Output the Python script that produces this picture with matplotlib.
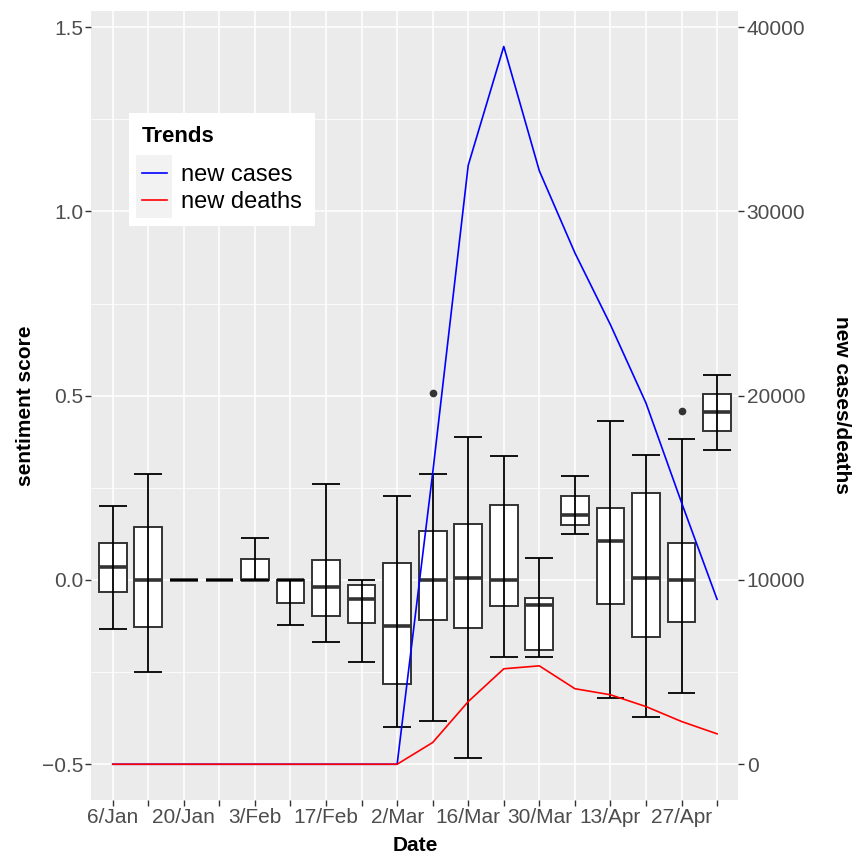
import matplotlib
matplotlib.use("Agg")
import matplotlib.pyplot as plt
from matplotlib.legend_handler import HandlerLine2D
from matplotlib.patches import Rectangle

plt.rcParams['font.family'] = ['Liberation Sans', 'DejaVu Sans']

# weekly categories (every other one labelled)
weeks = ['6/Jan', '13/Jan', '20/Jan', '27/Jan', '3/Feb', '10/Feb', '17/Feb', '24/Feb', '2/Mar',
         '9/Mar', '16/Mar', '23/Mar', '30/Mar', '6/Apr', '13/Apr', '20/Apr', '27/Apr', '4/May']
week_labels = [w if i % 2 == 0 else '' for i, w in enumerate(weeks)]

# sentiment score box summaries per week
whis_hi = [0.202, 0.287, 0, 0, 0.114, 0, 0.260, 0, 0.228, 0.287, 0.387, 0.337, 0.060, 0.282, 0.430, 0.338, 0.383, 0.556]
q3 = [0.101, 0.145, 0, 0, 0.056, 0, 0.054, -0.015, 0.045, 0.134, 0.153, 0.204, -0.048, 0.228, 0.194, 0.237, 0.100, 0.505]
med = [0.034, 0, 0, 0, 0, 0, -0.020, -0.051, -0.125, 0, 0.005, 0, -0.068, 0.176, 0.106, 0.005, 0, 0.455]
q1 = [-0.033, -0.127, 0, 0, 0, -0.062, -0.098, -0.118, -0.282, -0.109, -0.131, -0.072, -0.190, 0.150, -0.066, -0.155, -0.114, 0.404]
whis_lo = [-0.134, -0.251, 0, 0, 0, -0.123, -0.168, -0.222, -0.398, -0.382, -0.482, -0.209, -0.208, 0.125, -0.321, -0.371, -0.306, 0.353]
outliers = {9: [0.506], 16: [0.459]}

# weekly trends (right axis)
new_cases = [0, 0, 0, 0, 0, 0, 0, 0, 0, 15800, 32500, 38950, 32200, 27750, 23850, 19600, 14200, 8950]
new_deaths = [0, 0, 0, 0, 0, 0, 0, 0, 0, 1180, 3400, 5180, 5340, 4100, 3770, 3130, 2320, 1650]

scale = 20000.0   # cases = (score + 0.5) * scale
offset = 0.5

pos = list(range(1, len(weeks) + 1))
box_w = 0.78

fig = plt.figure(figsize=(8.58, 8.56), dpi=100, facecolor='white')
ax = fig.add_axes([91.4 / 858, 1 - 800 / 856, 647 / 858, 789.5 / 856])
ax.set_facecolor('#EBEBEB')
for s in ax.spines.values():
    s.set_visible(False)

stats = []
for i in range(len(weeks)):
    stats.append(dict(med=med[i], q1=q1[i], q3=q3[i], whislo=med[i], whishi=med[i],
                      fliers=outliers.get(i, [])))
ax.bxp(stats, positions=pos, widths=box_w, patch_artist=True, showcaps=False,
       boxprops=dict(facecolor='white', edgecolor='#333333', linewidth=1.4),
       medianprops=dict(color='#333333', linewidth=2.6, solid_capstyle='butt'),
       whiskerprops=dict(linewidth=0),
       flierprops=dict(marker='o', markerfacecolor='#333333', markeredgecolor='#333333', markersize=4.5),
       zorder=2)

# error bars drawn over the boxes
ax.vlines(pos, whis_lo, whis_hi, color='black', linewidth=1.3, zorder=3)
ax.hlines(whis_lo, [p - box_w / 2 for p in pos], [p + box_w / 2 for p in pos], color='black', linewidth=1.3, zorder=3)
ax.hlines(whis_hi, [p - box_w / 2 for p in pos], [p + box_w / 2 for p in pos], color='black', linewidth=1.3, zorder=3)

ylo, yhi = -0.597, 1.545
ax.set_ylim(ylo, yhi)
ax.set_xlim(0.4, len(weeks) + 0.6)
ax.set_yticks([-0.5, 0.0, 0.5, 1.0, 1.5])
ax.set_yticklabels(['\u22120.5', '0.0', '0.5', '1.0', '1.5'])
ax.set_yticks([-0.25, 0.25, 0.75, 1.25], minor=True)
ax.set_xticks(pos)
ax.set_xticklabels(week_labels)
ax.grid(which='major', color='white', linewidth=1.1)
ax.grid(which='minor', axis='y', color='white', linewidth=0.55)
ax.set_axisbelow(True)
ax.tick_params(which='major', length=4, width=1, color='#333333', labelcolor='#4D4D4D', labelsize=15, pad=2)
ax.tick_params(which='minor', length=0)
ax.set_ylabel('sentiment score', fontsize=15, fontweight='bold', labelpad=5)
ax.set_xlabel('Date', fontsize=15, fontweight='bold', labelpad=6)

ax2 = ax.twinx()
for s in ax2.spines.values():
    s.set_visible(False)
ax2.plot(pos, new_cases, color='blue', linewidth=1.2, label='new cases')
ax2.plot(pos, new_deaths, color='red', linewidth=1.2, label='new deaths')
ax2.set_ylim((ylo + offset) * scale, (yhi + offset) * scale)
ax2.set_yticks([0, 10000, 20000, 30000, 40000])
ax2.tick_params(length=4, width=1, color='#333333', labelcolor='#4D4D4D', labelsize=15, pad=2)
ax2.set_ylabel('new cases/deaths', fontsize=15, fontweight='bold', rotation=270, labelpad=33)


class KeyHandler(HandlerLine2D):
    def create_artists(self, legend, orig_handle, xdescent, ydescent, width, height, fontsize, trans):
        bg = Rectangle((-xdescent - 4, -ydescent - 7), width + 8, height + 14,
                       facecolor='#F2F2F2', edgecolor='none', transform=trans)
        arts = super().create_artists(legend, orig_handle, xdescent, ydescent, width, height, fontsize, trans)
        return [bg] + list(arts)


leg = ax2.legend(loc='upper left', bbox_to_anchor=(0.058, 0.870), borderaxespad=0,
                 title='Trends', fontsize=17, title_fontproperties={'weight': 'bold', 'size': 16},
                 frameon=True, fancybox=False, handlelength=1.05, handletextpad=0.6,
                 labelspacing=0.22, borderpad=0.55,
                 handler_map={plt.Line2D: KeyHandler()})
leg.get_frame().set_facecolor('white')
leg.get_frame().set_edgecolor('none')
leg.get_frame().set_alpha(1)
leg._legend_box.align = 'left'
leg._legend_box.sep = 12

fig.savefig('out.png', dpi=100, facecolor='white')
